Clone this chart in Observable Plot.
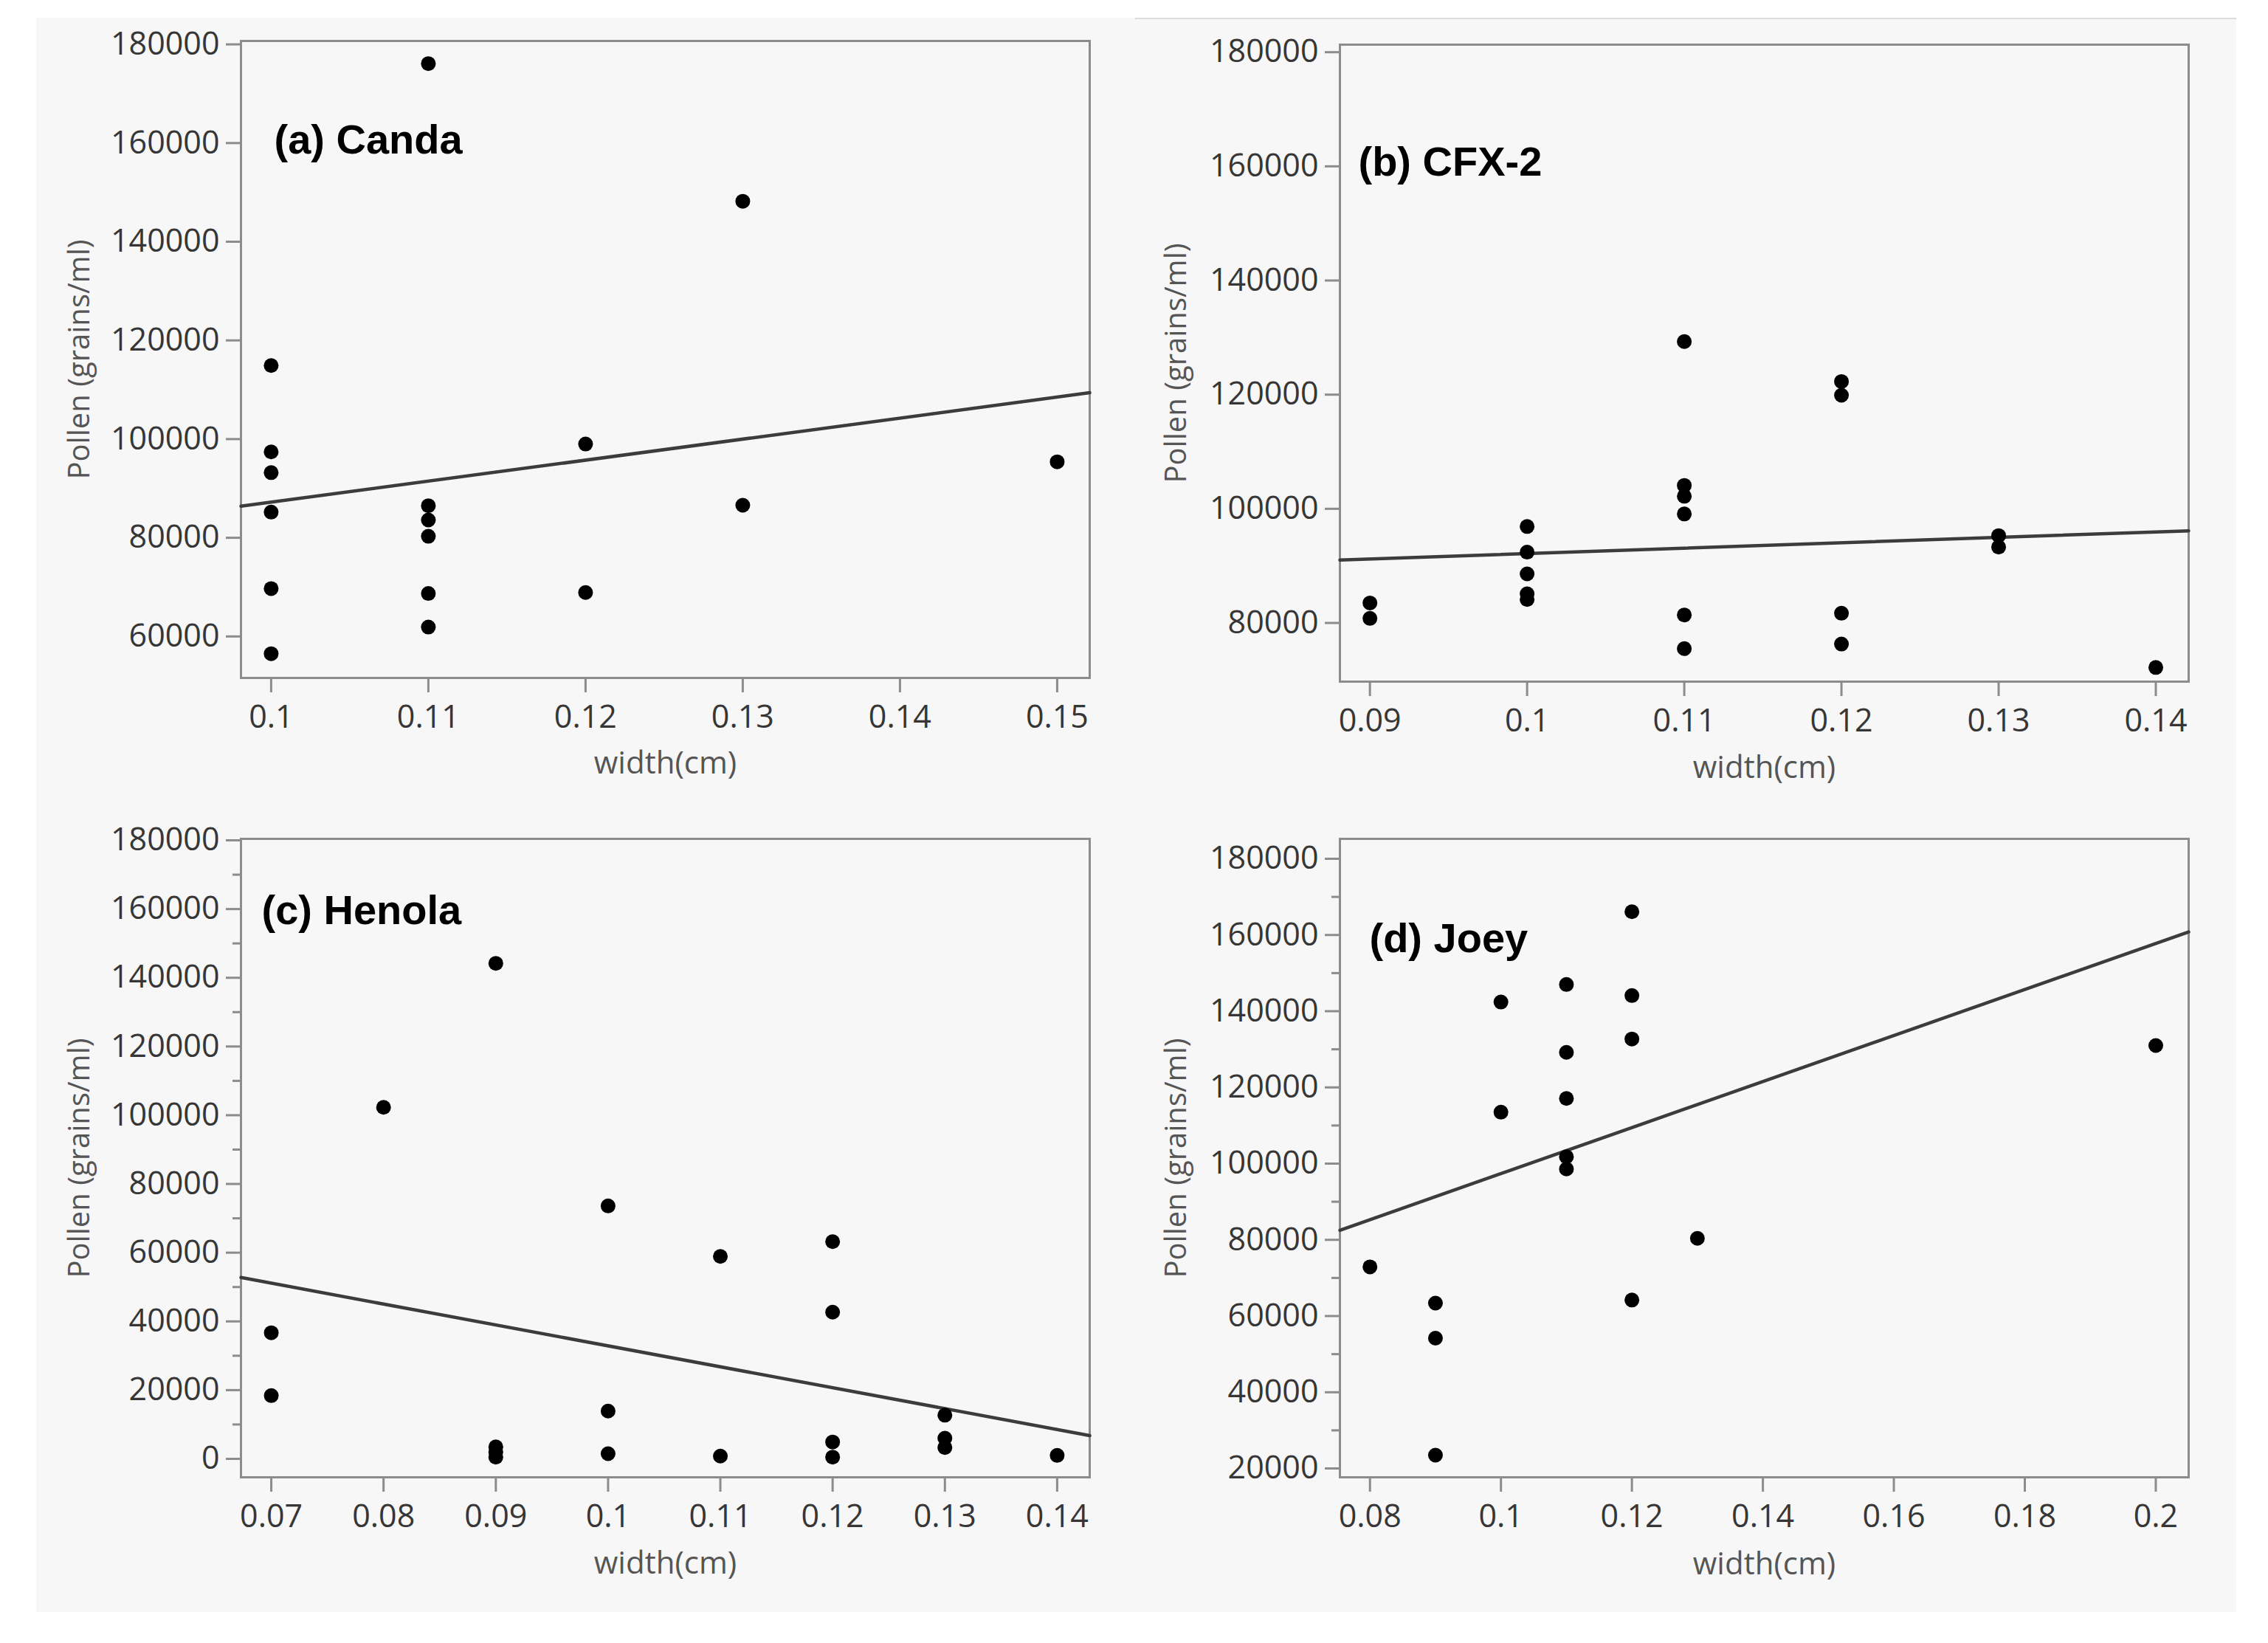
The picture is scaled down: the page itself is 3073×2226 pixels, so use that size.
<!DOCTYPE html>
<html>
<head>
<meta charset="utf-8">
<script src="https://cdn.jsdelivr.net/npm/d3@7"></script>
<script src="https://cdn.jsdelivr.net/npm/@observablehq/plot@0.6"></script>
<style>
  body { margin: 0; background: #fff; }
  #page { position: relative; width: 3073px; height: 2226px; }
  #bg { position: absolute; left: 49px; top: 24px; width: 2981px; height: 2160px; background: #f7f7f7; }
  #topline { position: absolute; left: 1538px; top: 24px; width: 1492px; height: 2px; background: #dcdcdc; }
  .panel { position: absolute; }
</style>
</head>
<body>
<div id="page">
  <div id="bg"></div>
  <div id="topline"></div>
  <div id="a" class="panel" style="left:0px;top:0px"></div>
  <div id="b" class="panel" style="left:1490px;top:0px"></div>
  <div id="c" class="panel" style="left:0px;top:1090px"></div>
  <div id="d" class="panel" style="left:1490px;top:1090px"></div>
</div>
<script>
// (a) Canda
const candaWidth  = [0.10, 0.10, 0.10, 0.10, 0.10, 0.10, 0.11, 0.11, 0.11, 0.11, 0.11, 0.11, 0.12, 0.12, 0.13, 0.13, 0.15];
const candaPollen = [114900, 97400, 93200, 85200, 69700, 56500, 176100, 86500, 83600, 80300, 68700, 61900, 99000, 68900, 148200, 86600, 95400];
const candaXTicks = [0.1, 0.11, 0.12, 0.13, 0.14, 0.15];
const candaYTicks = [60000, 80000, 100000, 120000, 140000, 160000, 180000];

// (b) CFX-2
const cfxWidth  = [0.09, 0.09, 0.10, 0.10, 0.10, 0.10, 0.10, 0.11, 0.11, 0.11, 0.11, 0.11, 0.11, 0.12, 0.12, 0.12, 0.12, 0.13, 0.13, 0.14];
const cfxPollen = [83500, 80800, 96900, 92400, 88600, 85100, 84100, 129300, 104100, 102200, 99100, 81400, 75500, 122300, 119900, 81700, 76300, 95300, 93300, 72200];
const cfxXTicks = [0.09, 0.1, 0.11, 0.12, 0.13, 0.14];
const cfxYTicks = [80000, 100000, 120000, 140000, 160000, 180000];

// (c) Henola
const henolaWidth  = [0.07, 0.07, 0.08, 0.09, 0.09, 0.09, 0.09, 0.10, 0.10, 0.10, 0.11, 0.11, 0.12, 0.12, 0.12, 0.12, 0.13, 0.13, 0.13, 0.14];
const henolaPollen = [36700, 18400, 102300, 144200, 3500, 2000, 500, 73600, 13900, 1500, 58900, 800, 63200, 42700, 4900, 500, 12700, 6000, 3300, 1000];
const henolaXTicks = [0.07, 0.08, 0.09, 0.1, 0.11, 0.12, 0.13, 0.14];
const henolaYTicks = [0, 20000, 40000, 60000, 80000, 100000, 120000, 140000, 160000, 180000];
const henolaYMinor = [10000, 30000, 50000, 70000, 90000, 110000, 130000, 150000, 170000];

// (d) Joey
const joeyWidth  = [0.08, 0.09, 0.09, 0.09, 0.10, 0.10, 0.11, 0.11, 0.11, 0.11, 0.11, 0.12, 0.12, 0.12, 0.12, 0.13, 0.20];
const joeyPollen = [72900, 63400, 54200, 23500, 142400, 113500, 147000, 129200, 117100, 101800, 98600, 166100, 144100, 132700, 64200, 80400, 131000];
const joeyXTicks = [0.08, 0.1, 0.12, 0.14, 0.16, 0.18, 0.2];
const joeyYTicks = [20000, 40000, 60000, 80000, 100000, 120000, 140000, 160000, 180000];
const joeyYMinor = [30000, 50000, 70000, 90000, 110000, 130000, 150000, 170000];

// least squares fit, same as the straight line in each panel
function fit(xs, ys) {
  const mx = d3.mean(xs), my = d3.mean(ys);
  const sxy = d3.sum(xs, (x, i) => (x - mx) * (ys[i] - my));
  const sxx = d3.sum(xs, x => (x - mx) ** 2);
  const b = sxy / sxx;
  return x => my + b * (x - mx);
}

const panels = [
  {id: 'a', title: '(a) Canda', w: candaWidth, p: candaPollen, xTicks: candaXTicks, yTicks: candaYTicks, minor: null,
   xDomain: [0.09808, 0.15207], yDomain: [51590, 180690],
   m: {top: 55, right: 24, bottom: 172, left: 326}, titleD: [45, 135], ylab: -218, xlab: 116},
  {id: 'b', title: '(b) CFX-2', w: cfxWidth, p: cfxPollen, xTicks: cfxXTicks, yTicks: cfxYTicks, minor: null,
   xDomain: [0.08809, 0.14209], yDomain: [69720, 181320],
   m: {top: 60, right: 25, bottom: 167, left: 325}, titleD: [25, 160], ylab: -221, xlab: 117},
  {id: 'c', title: '(c) Henola', w: henolaWidth, p: henolaPollen, xTicks: henolaXTicks, yTicks: henolaYTicks, minor: henolaYMinor,
   xDomain: [0.0673, 0.1429], yDomain: [-5370, 180430],
   m: {top: 46, right: 24, bottom: 179, left: 326}, titleD: [28, 98], ylab: -218, xlab: 117},
  {id: 'd', title: '(d) Joey', w: joeyWidth, p: joeyPollen, xTicks: joeyXTicks, yTicks: joeyYTicks, minor: joeyYMinor,
   xDomain: [0.07541, 0.20502], yDomain: [17680, 185230],
   m: {top: 46, right: 25, bottom: 179, left: 325}, titleD: [40, 136], ylab: -221, xlab: 118}
];

for (const s of panels) {
  const pts = s.w.map((w, i) => ({w, p: s.p[i]}));
  const f = fit(s.w, s.p);
  const fitLine = s.xDomain.map(w => ({w, p: f(w)}));

  const chart = Plot.plot({
    width: 1500,
    height: 1090,
    marginTop: s.m.top,
    marginRight: s.m.right,
    marginBottom: s.m.bottom,
    marginLeft: s.m.left,
    style: {background: 'transparent', fontFamily: "'Open Sans', sans-serif", fontSize: '43px', color: '#363636', overflow: 'visible'},
    x: {domain: s.xDomain, label: null},
    y: {domain: s.yDomain, label: null},
    marks: [
      Plot.frame({stroke: '#8c8c8c', strokeWidth: 3}),
      Plot.axisX(s.xTicks, {tickSize: 20, tickPadding: 17, stroke: '#8c8c8c', strokeWidth: 3, tickFormat: d => String(d), label: null}),
      Plot.axisY(s.yTicks, {tickSize: 20, tickPadding: 9, stroke: '#8c8c8c', strokeWidth: 3, tickFormat: 'd', label: null}),
      s.minor ? Plot.axisY(s.minor, {tickSize: 11, stroke: '#8c8c8c', strokeWidth: 3, tickFormat: () => '', label: null}) : null,
      Plot.line(fitLine, {x: 'w', y: 'p', stroke: '#3c3c3c', strokeWidth: 4.5}),
      Plot.dot(pts, {x: 'w', y: 'p', r: 10, fill: 'black'}),
      Plot.text([s.title], {frameAnchor: 'top-left', dx: s.titleD[0], dy: s.titleD[1], textAnchor: 'start', lineAnchor: 'middle',
        fontFamily: "'Liberation Sans', Arial, sans-serif", fontWeight: 'bold', fontSize: 56, fill: 'black'}),
      Plot.text(['width(cm)'], {frameAnchor: 'bottom', dy: s.xlab, textAnchor: 'middle', lineAnchor: 'middle', fontSize: 42, fill: '#555'}),
      Plot.text(['Pollen (grains/ml)'], {frameAnchor: 'left', dx: s.ylab, rotate: -90, textAnchor: 'middle', lineAnchor: 'middle', fontSize: 40, fill: '#555'})
    ]
  });
  d3.select('#' + s.id).append(() => chart);
}
</script>
</body>
</html>
